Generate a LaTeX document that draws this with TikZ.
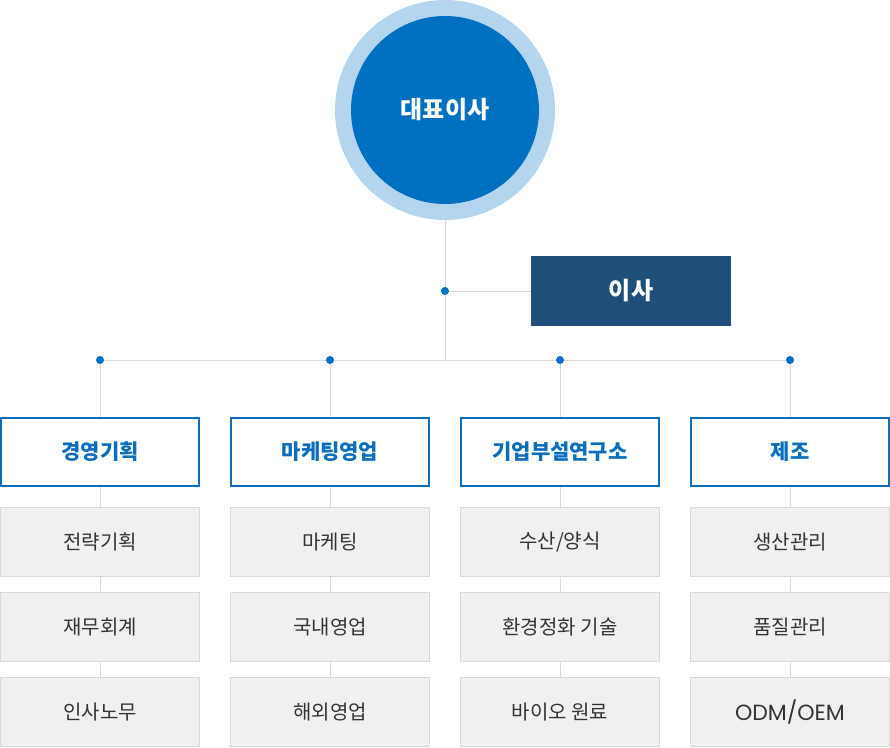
\documentclass[tikz,border=0pt]{standalone}
\usepackage{fontspec}
\setmainfont{Noto Sans CJK KR}
\newfontfamily\latinfont{Poppins}
\usetikzlibrary{positioning}

\definecolor{ringblue}{HTML}{B4D5EE}
\definecolor{ceoblue}{HTML}{0070C0}
\definecolor{boardnavy}{HTML}{1F4E79}
\definecolor{headblue}{HTML}{0A6EBD}
\definecolor{linegray}{HTML}{D9D9D9}
\definecolor{boxgray}{HTML}{F0F0F0}
\definecolor{textgray}{HTML}{333333}

\newcommand{\odmoem}{{\latinfont\fontsize{22}{26}\selectfont ODM/OEM}}
\newcommand{\aquafarm}{수산/양식}

\begin{document}
\begin{tikzpicture}[x=1pt,y=-1pt,
  headbox/.style={draw=headblue, line width=1.2pt, fill=white, text=headblue,
    minimum width=198pt, minimum height=68pt, inner sep=0pt,
    font=\bfseries\fontsize{21}{25}\selectfont},
  subbox/.style={draw=linegray, line width=1pt, fill=boxgray, text=textgray,
    minimum width=199pt, minimum height=69pt, inner sep=0pt,
    font=\fontsize{20}{24}\selectfont},
  junction/.style={circle, fill=ceoblue, inner sep=0pt, minimum size=8pt},
  link/.style={draw=linegray, line width=1pt}]
  \useasboundingbox (0,0) rectangle (890,747);

  % CEO
  \node[circle, fill=ringblue, minimum size=220pt, inner sep=0pt] (ring) at (445,110) {};
  \node[circle, fill=ceoblue, minimum size=188pt, inner sep=0pt, text=white,
    font=\bfseries\fontsize{24}{28}\selectfont] (ceo) at (445,110) {대표이사};

  % Board
  \node[fill=boardnavy, minimum width=200pt, minimum height=70pt, text=white,
    font=\bfseries\fontsize{24}{28}\selectfont] (board) at (631,291) {이사};
  \node[junction] (jb) at (445,291) {};
  \coordinate (bus) at (445,360);
  \draw[link] (ring.south) -- (jb) -- (bus);
  \draw[link] (jb) -- (board.west);

  % Departments
  \foreach \n/\x/\head/\a/\b/\c in {1/100/경영기획/전략기획/재무회계/인사노무,
      2/330/마케팅영업/마케팅/국내영업/해외영업,
      3/560/기업부설연구소/\aquafarm/환경정화 기술/바이오 원료,
      4/790/제조/생산관리/품질관리/\odmoem} {
    \node[junction] (j\n) at (\x,360) {};
    \node[headbox] (head\n) at (\x,452) {\head};
    \node[subbox] (suba\n) at (\x,542) {\a};
    \node[subbox] (subb\n) at (\x,627) {\b};
    \node[subbox] (subc\n) at (\x,712) {\c};
    \draw[link] (j\n) -- (head\n);
    \draw[link] (head\n) -- (suba\n);
    \draw[link] (suba\n) -- (subb\n);
    \draw[link] (subb\n) -- (subc\n);
  }
  \draw[link] (j1) -- (j2) -- (j3) -- (j4);
\end{tikzpicture}
\end{document}
